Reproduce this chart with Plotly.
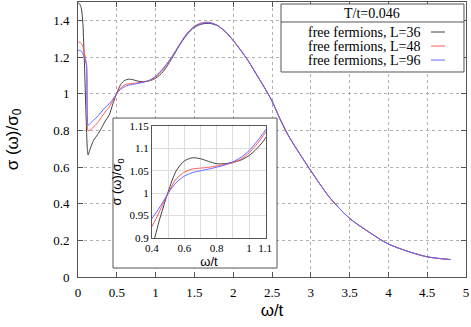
import plotly.graph_objects as go

# omega/t sampling shared by the three lattice sizes
w = [0, 0.02, 0.04, 0.06, 0.08, 0.1, 0.11, 0.12, 0.13, 0.15,
     0.2, 0.25, 0.3, 0.35,
     0.4, 0.45, 0.5, 0.55, 0.6, 0.65, 0.7, 0.75, 0.8, 0.85, 0.9, 0.95, 1.0, 1.05, 1.1,
     1.2, 1.3, 1.4, 1.5, 1.6, 1.7, 1.8, 1.9, 2.0, 2.1, 2.2, 2.3, 2.4, 2.5, 2.6, 2.7, 2.8,
     3.0, 3.25, 3.5, 3.75, 4.0, 4.25, 4.5, 4.8]

tail = [1.29, 1.235, 1.175, 1.105, 1.035, 0.96, 0.865, 0.78, 0.71,
        0.58, 0.43, 0.32, 0.245, 0.18, 0.14, 0.11, 0.095]

sig_L36 = [1.495, 1.49, 1.47, 1.40, 1.20, 0.93, 0.80, 0.70, 0.665, 0.69,
           0.745, 0.775, 0.81, 0.85,
           0.882, 0.945, 1.003, 1.05, 1.072, 1.079, 1.077, 1.071, 1.066, 1.066, 1.069, 1.074, 1.084, 1.1, 1.122,
           1.185, 1.258, 1.32, 1.362, 1.38, 1.383, 1.37, 1.338] + tail
sig_L48 = [1.275, 1.282, 1.276, 1.258, 1.225, 1.185, 1.16, 0.86, 0.797, 0.80,
           0.818, 0.84, 0.87, 0.9,
           0.926, 0.962, 1.0, 1.032, 1.047, 1.054, 1.056, 1.058, 1.061, 1.064, 1.068, 1.076, 1.09, 1.11, 1.135,
           1.192, 1.262, 1.326, 1.368, 1.387, 1.389, 1.372, 1.338] + tail
sig_L96 = [1.232, 1.237, 1.232, 1.22, 1.198, 1.172, 1.155, 0.87, 0.828, 0.835,
           0.855, 0.875, 0.9, 0.925,
           0.944, 0.97, 1.0, 1.024, 1.038, 1.046, 1.05, 1.054, 1.058, 1.063, 1.07, 1.08, 1.095, 1.116, 1.14,
           1.195, 1.262, 1.325, 1.366, 1.384, 1.386, 1.371, 1.338] + tail

names = ["free fermions, L=36", "free fermions, L=48", "free fermions, L=96"]
colors = ["#404040", "#ff5a5a", "#6464ff"]
series = [sig_L36, sig_L48, sig_L96]
legend_title = "T/t=0.046"

main_xticks = [0, 0.5, 1, 1.5, 2, 2.5, 3, 3.5, 4, 4.5, 5]
main_yticks = [0, 0.2, 0.4, 0.6, 0.8, 1, 1.2, 1.4]
inset_xticks = [0.4, 0.5, 0.6, 0.7, 0.8, 0.9, 1.0, 1.1]
inset_xlabels = ["0.4", "", "0.6", "", "0.8", "", "1", "1.1"]
inset_yticks = [0.9, 0.95, 1.0, 1.05, 1.1, 1.15]

serif = "Liberation Serif, Times New Roman, serif"
sans = "Liberation Sans, Arial, sans-serif"

fig = go.Figure()

for ys, c, n in zip(series, colors, names):
    # main panel
    fig.add_trace(go.Scatter(x=w, y=ys, mode="lines", name=n, showlegend=False,
                             line=dict(color=c, width=1, shape="spline", smoothing=0.8),
                             xaxis="x", yaxis="y"))
for ys, c, n in zip(series, colors, names):
    # zoomed inset
    fig.add_trace(go.Scatter(x=w, y=ys, mode="lines", name=n, showlegend=False,
                             line=dict(color=c, width=1, shape="spline", smoothing=0.8),
                             xaxis="x2", yaxis="y2"))

frame = "#555555"
fig.update_layout(
    width=471, height=327,
    margin=dict(l=78, r=5, t=2, b=50),
    paper_bgcolor="white", plot_bgcolor="white",
    xaxis=dict(domain=[0, 1], range=[0, 5], tickvals=main_xticks, automargin=False,
               ticks="inside", ticklen=5, tickcolor=frame, mirror="allticks",
               showline=True, linecolor=frame, linewidth=1,
               showgrid=True, gridcolor="#b0b0b0", griddash="dot", gridwidth=1,
               zeroline=False, ticklabelstandoff=3,
               tickfont=dict(family=serif, size=13, color="black"),
               title=dict(text="ω/t", font=dict(family=sans, size=17, color="black"), standoff=5)),
    yaxis=dict(domain=[0, 1], range=[0, 1.5], tickvals=main_yticks, automargin=False,
               ticks="inside", ticklen=5, tickcolor=frame, mirror="allticks",
               showline=True, linecolor=frame, linewidth=1,
               showgrid=True, gridcolor="#b0b0b0", griddash="dot", gridwidth=1,
               zeroline=False, ticklabelstandoff=5,
               tickfont=dict(family=serif, size=13, color="black"),
               title=dict(text="σ (ω)/σ<sub>0</sub>", font=dict(family=sans, size=17, color="black"), standoff=30)),
    xaxis2=dict(domain=[0.1907, 0.4845], anchor="y2", range=[0.4, 1.105], automargin=False,
                tickvals=inset_xticks, ticktext=inset_xlabels, ticks="",
                showline=True, linecolor=frame, mirror=True,
                showgrid=True, gridcolor="#dddddd", zeroline=False,
                tickfont=dict(family=serif, size=11, color="black"),
                title=dict(text="ω/t", font=dict(family=sans, size=13, color="black"), standoff=2)),
    yaxis2=dict(domain=[0.1418, 0.549], anchor="x2", range=[0.9, 1.15], automargin=False,
                tickvals=inset_yticks, ticks="",
                showline=True, linecolor=frame, mirror=True,
                showgrid=True, gridcolor="#dddddd", zeroline=False,
                tickfont=dict(family=serif, size=11, color="black"),
                title=dict(text="σ (ω)/σ<sub>0</sub>", font=dict(family=sans, size=13, color="black"), standoff=4)),
)

# opaque frame behind the inset (above main grid, under main curves)
fig.add_shape(type="rect", xref="x", yref="y", layer="between",
              x0=0.451, x1=2.5645, y0=0.049, y1=0.867,
              fillcolor="white", line=dict(color=frame, width=1))

# gnuplot style key, top right
kx0, kx1, ky0, ky1 = 0.5232, 0.9948, 0.7455, 0.9927
fig.add_shape(type="rect", xref="paper", yref="paper", x0=kx0, x1=kx1, y0=ky0, y1=ky1,
              fillcolor="white", line=dict(color=frame, width=1), layer="above")
fig.add_shape(type="line", xref="paper", yref="paper", x0=kx0, x1=kx1, y0=0.9273, y1=0.9273,
              line=dict(color=frame, width=1), layer="above")
fig.add_annotation(xref="paper", yref="paper", x=(kx0 + kx1) / 2, y=0.96, text=legend_title,
                   showarrow=False, xanchor="center", yanchor="middle",
                   font=dict(family=serif, size=14, color="black"))
for i, (n, c) in enumerate(zip(names, colors)):
    yy = 0.8909 - i * 0.051
    fig.add_annotation(xref="paper", yref="paper", x=0.8866, y=yy, text=n,
                       showarrow=False, xanchor="right", yanchor="middle",
                       font=dict(family=serif, size=14, color="black"))
    fig.add_shape(type="line", xref="paper", yref="paper", x0=0.9098, x1=0.9459, y0=yy, y1=yy,
                  line=dict(color=c, width=1), layer="above")

# drop the default 8px page margin so the figure sits at the window corner
fig.write_html("out.html", config={"displayModeBar": False},
               post_script="document.body.style.margin='0';")
